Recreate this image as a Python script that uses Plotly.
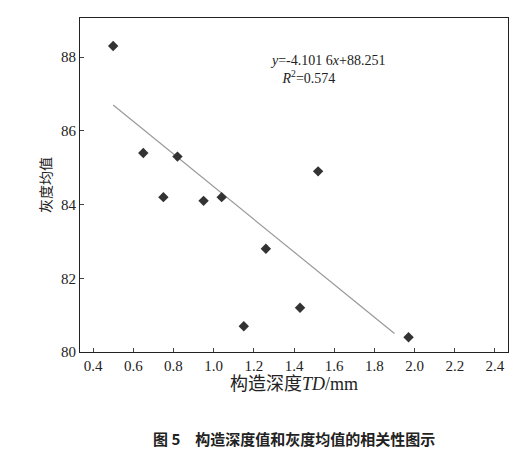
import plotly.graph_objects as go

td = [0.5, 0.65, 0.82, 0.75, 0.95, 1.04, 1.52, 1.26, 1.43, 1.15, 1.97]
gray = [88.3, 85.4, 85.3, 84.2, 84.1, 84.2, 84.9, 82.8, 81.2, 80.7, 80.4]
fit_x = [0.5, 1.9]
fit_y = [86.7, 80.5]
xticks = [0.4, 0.6, 0.8, 1.0, 1.2, 1.4, 1.6, 1.8, 2.0, 2.2, 2.4]
yticks = [80, 82, 84, 86, 88]

font = "Liberation Serif, Noto Sans CJK SC"
fig = go.Figure()
fig.add_trace(go.Scatter(x=fit_x, y=fit_y, mode="lines", line=dict(color="#999", width=1.2)))
fig.add_trace(go.Scatter(x=td, y=gray, mode="markers",
                         marker=dict(symbol="diamond", size=8, color="#333")))
fig.update_layout(
    width=525, height=460, showlegend=False, plot_bgcolor="white", paper_bgcolor="white",
    margin=dict(l=72, r=25, t=10, b=116),
    font=dict(family=font, size=15, color="#222"),
    xaxis=dict(range=[0.335, 2.465], tickvals=xticks, ticktext=[f"{v:.1f}" for v in xticks],
               showline=True, linecolor="#222", mirror=True, ticks="inside", ticklen=4,
               showgrid=False, zeroline=False,
               title=dict(text="构造深度<i>TD</i>/mm", standoff=4)),
    yaxis=dict(range=[80, 89.06], tickvals=yticks, showline=True, linecolor="#222", mirror=True,
               ticks="inside", ticklen=4, showgrid=False, zeroline=False,
               title=dict(text="灰度均值", standoff=6, font=dict(size=14))),
)
fig.add_annotation(x=0.44, y=0.9, xref="paper", yref="paper", xanchor="left", yanchor="top",
                   showarrow=False, align="left",
                   text="<i>y</i>=-4.101 6<i>x</i>+88.251<br>   <i>R</i><sup>2</sup>=0.574",
                   font=dict(size=14))
fig.add_annotation(x=0.5, y=-0.26, xref="paper", yref="paper", showarrow=False,
                   text="<b>图 5　构造深度值和灰度均值的相关性图示</b>",
                   font=dict(size=15, family="Noto Sans CJK SC"), xanchor="center", yanchor="middle")
fig.write_html("out.html")
